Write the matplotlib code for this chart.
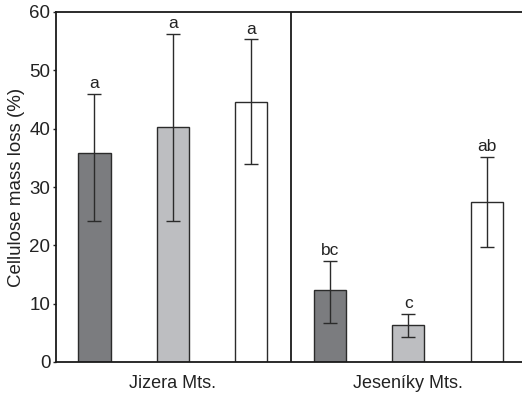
import matplotlib
matplotlib.use("Agg")
import matplotlib.pyplot as plt
import numpy as np

plt.rcParams['font.family'] = ['Liberation Sans', 'DejaVu Sans']

# Cellulose mass loss per treatment in two mountain ranges
regions = ["Jizera Mts.", "Jeseníky Mts."]
means = [35.8, 40.3, 44.5, 12.4, 6.3, 27.4]
err_upper = [46.0, 56.3, 55.3, 17.3, 8.3, 35.1]
err_lower = [24.2, 24.2, 33.9, 6.7, 4.3, 19.8]
letters = ["a", "a", "a", "bc", "c", "ab"]
colors = ["#7b7c7f", "#bdbec1", "#ffffff", "#7b7c7f", "#bdbec1", "#ffffff"]

W, H = 522, 394
fig = plt.figure(figsize=(W / 100, H / 100), dpi=100)
left, right, top, bottom = 56, 522, 12, 362
ax = fig.add_axes([left / W, 1 - bottom / H, (right - left) / W, (bottom - top) / H])

x = np.arange(len(means))
m = np.array(means)
yerr = np.vstack([m - np.array(err_lower), np.array(err_upper) - m])
edge = "#2b2b2b"
ax.bar(x, means, width=0.41, color=colors, edgecolor=edge, linewidth=1.0, zorder=2)
ax.errorbar(x, means, yerr=yerr, fmt="none", ecolor=edge, elinewidth=1.0,
            capsize=5.2, capthick=1.0, zorder=3)
for xi, up, lab in zip(x, err_upper, letters):
    ax.text(xi, up + 0.5, lab, ha="center", va="bottom", fontsize=12.5, color="#222222")

ax.axvline(2.5, color="#1a1a1a", linewidth=1.3, zorder=4)

ax.set_xlim(-0.49, 5.45)
ax.set_ylim(0, 60)
ax.set_yticks(np.arange(0, 61, 10))
ax.tick_params(axis="y", direction="out", length=2.5, width=1.0, labelsize=13.5,
               pad=1.5, colors="#222222")
ax.set_xticks([1, 4])
ax.set_xticklabels(regions)
ax.tick_params(axis="x", length=0, labelsize=13, pad=9, colors="#222222")
ax.set_ylabel("Cellulose mass loss (%)", fontsize=13.5, color="#222222", labelpad=3)

for s in ["left", "top", "bottom"]:
    ax.spines[s].set_linewidth(1.3)
    ax.spines[s].set_color("#1a1a1a")
ax.spines["right"].set_visible(False)

fig.savefig("out.png", dpi=100)
